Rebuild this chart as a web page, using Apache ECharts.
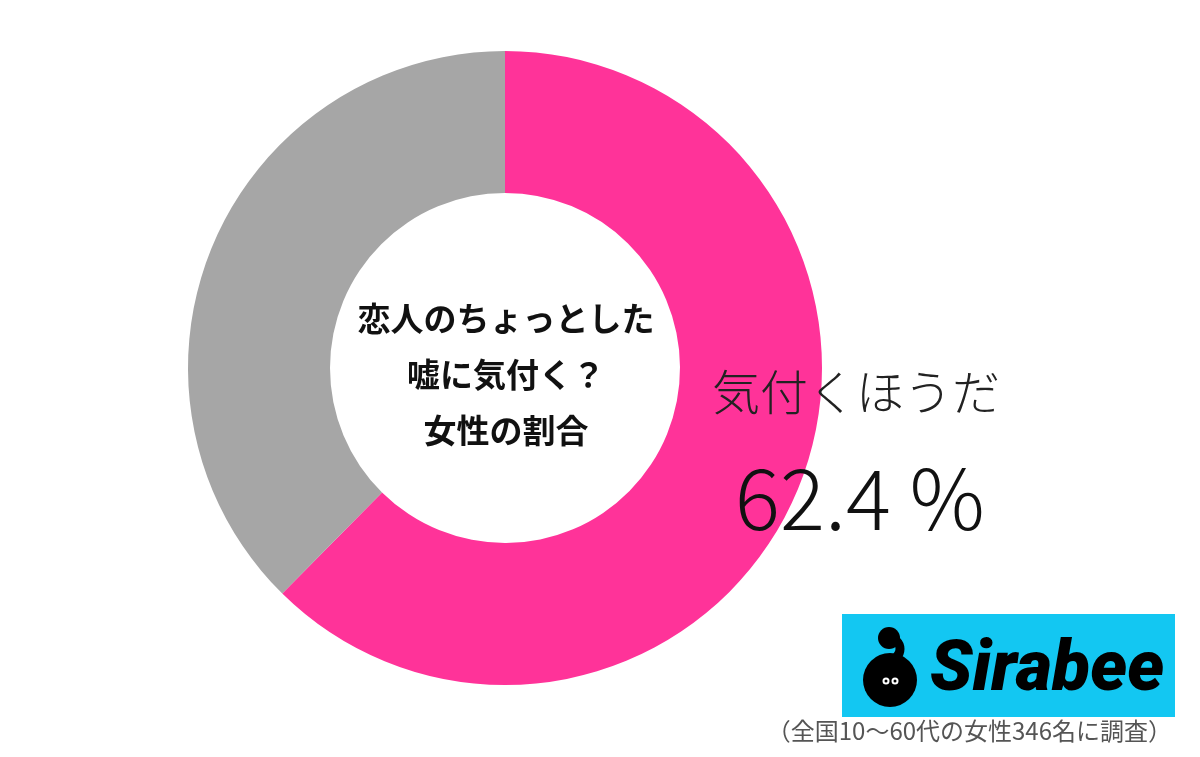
<!DOCTYPE html>
<html><head><meta charset="utf-8">
<script src="https://cdn.jsdelivr.net/npm/echarts@6/dist/echarts.min.js"></script>
<style>html,body{margin:0;padding:0;background:#fff}#c{width:1200px;height:757px}</style>
</head><body><div id="c"></div>
<script>
const categories = ['気付くほうだ', '気付かないほうだ'];
const values = [62.4, 37.6];
const colors = ['#FF3399', '#A6A6A6'];
const centerLines = ['恋人のちょっとした', '嘘に気付く？', '女性の割合'];
const footnote = '（全国10〜60代の女性346名に調査）';
const brand = 'Sirabee';

const chart = echarts.init(document.getElementById('c'), null, {renderer: 'canvas'});
const CJK = '"Noto Sans CJK JP", "Noto Sans", sans-serif';
const g = (o) => Object.assign({z: 100, silent: true}, o);
chart.setOption({
  backgroundColor: '#ffffff',
  animation: false,
  series: [{
    type: 'pie',
    center: [505, 368],
    radius: [175, 317],
    startAngle: 90,
    clockwise: true,
    label: {show: false},
    labelLine: {show: false},
    emphasis: {disabled: true},
    itemStyle: {borderWidth: 0},
    data: categories.map((c, i) => ({name: c, value: values[i], itemStyle: {color: colors[i]}}))
  }],
  graphic: [
    g({type: 'text', x: 506, y: 374, style: {
      text: centerLines.join('\n'), align: 'center', verticalAlign: 'middle',
      font: 'bold 33px ' + CJK, lineHeight: 56, fill: '#111'}}),
    g({type: 'text', x: 712, y: 392, style: {
      text: categories[0], align: 'left', verticalAlign: 'middle',
      font: '300 48px ' + CJK, fill: '#222'}}),
    g({type: 'text', x: 735, y: 498, style: {
      text: values[0].toFixed(1) + ' %', align: 'left', verticalAlign: 'middle',
      font: '300 84px ' + CJK, fill: '#111'}}),
    g({type: 'rect', shape: {x: 842, y: 614, width: 333, height: 103}, style: {fill: '#13C7F2'}}),
    g({type: 'circle', shape: {cx: 890, cy: 680, r: 27}, style: {fill: '#000'}}),
    g({type: 'circle', shape: {cx: 889, cy: 638, r: 11}, style: {fill: '#000'}}),
    g({type: 'arc', shape: {cx: 889, cy: 649, r: 11, startAngle: -Math.PI/2, endAngle: Math.PI/2 + 0.4, clockwise: true}, style: {stroke: '#000', lineWidth: 9, fill: null}}),
    g({type: 'circle', shape: {cx: 886, cy: 681, r: 3.5}, style: {fill: '#fff'}}),
    g({type: 'circle', shape: {cx: 895, cy: 681, r: 3.5}, style: {fill: '#fff'}}),
    g({type: 'circle', shape: {cx: 886, cy: 681, r: 1.5}, style: {fill: '#000'}}),
    g({type: 'circle', shape: {cx: 895, cy: 681, r: 1.5}, style: {fill: '#000'}}),
    g({type: 'text', x: 930, y: 672, style: {
      text: brand, align: 'left', verticalAlign: 'middle',
      font: 'italic 900 70px Roboto, "Liberation Sans", sans-serif', fill: '#000'}}),
    g({type: 'text', x: 1172, y: 731, style: {
      text: footnote, align: 'right', verticalAlign: 'middle',
      font: '24px ' + CJK, fill: '#555'}})
  ]
});
</script></body></html>
